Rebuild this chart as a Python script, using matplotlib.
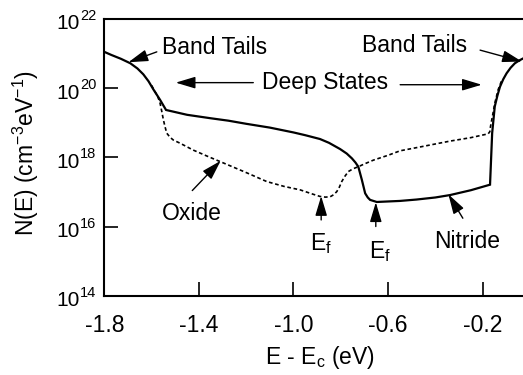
import matplotlib
matplotlib.use("Agg")
import matplotlib.pyplot as plt
import matplotlib.transforms as mtransforms
import numpy as np

plt.rcParams['font.family'] = ['Liberation Sans', 'DejaVu Sans']
plt.rcParams['mathtext.fontset'] = 'custom'
plt.rcParams['mathtext.rm'] = 'Liberation Sans'
plt.rcParams['mathtext.it'] = 'Liberation Sans:italic'
plt.rcParams['mathtext.bf'] = 'Liberation Sans:bold'

# Density of states N(E): energies in eV relative to Ec, values as log10(N / cm^-3 eV^-1)
nitride_E = [-1.80, -1.77, -1.73, -1.69, -1.66, -1.635, -1.613, -1.593, -1.564,
             -1.539, -1.45, -1.35, -1.275, -1.20, -1.10, -1.00, -0.95, -0.888,
             -0.85, -0.803, -0.775, -0.753, -0.738, -0.726, -0.711, -0.697,
             -0.686, -0.676, -0.648, -0.55, -0.48, -0.40, -0.338, -0.25, -0.169,
             -0.160, -0.149, -0.138, -0.127, -0.113, -0.099, -0.082, -0.064,
             -0.046, -0.029, 0.0]
nitride_logN = [21.05, 20.96, 20.85, 20.72, 20.57, 20.40, 20.20, 19.97, 19.66,
                19.37, 19.23, 19.13, 19.06, 18.97, 18.86, 18.72, 18.64, 18.53,
                18.42, 18.24, 18.11, 17.97, 17.85, 17.73, 17.35, 16.96,
                16.84, 16.77, 16.71, 16.74, 16.78, 16.84, 16.91, 17.05, 17.21,
                18.70, 19.47, 19.78, 20.04, 20.26, 20.43, 20.59, 20.72,
                20.80, 20.86, 20.95]

oxide_E = [-1.60, -1.586, -1.575, -1.564, -1.557, -1.550, -1.543, -1.536, -1.522,
           -1.508, -1.48, -1.424, -1.36, -1.311, -1.20, -1.113, -1.04, -0.972,
           -0.92, -0.888, -0.865, -0.845, -0.83, -0.817, -0.806, -0.796, -0.782,
           -0.768, -0.748, -0.726, -0.70, -0.662, -0.60, -0.549, -0.45, -0.338,
           -0.25, -0.177, -0.170, -0.167, -0.163, -0.159, -0.149, -0.135, -0.121]
oxide_logN = [20.08, 19.90, 19.78, 19.56, 19.33, 19.08, 18.88, 18.70, 18.58,
              18.50, 18.41, 18.21, 18.02, 17.88, 17.56, 17.30, 17.16, 17.06,
              16.94, 16.87, 16.85, 16.86, 16.92, 17.01, 17.14, 17.30, 17.46,
              17.59, 17.67, 17.73, 17.81, 17.92, 18.06, 18.19, 18.32, 18.47,
              18.57, 18.68, 18.74, 18.89, 19.04, 19.18, 19.56, 19.95, 20.20]

x_ticks = [-1.8, -1.4, -1.0, -0.6, -0.2]
x_ticklabels = ["-1.8", "-1.4", "-1.0", "-0.6", "-0.2"]
y_exponents = [14, 16, 18, 20, 22]

FS = 16.5

fig = plt.figure(figsize=(5.23, 3.75), dpi=100)
ax = fig.add_axes([104.3 / 523, (375 - 295.7) / 375, (530 - 104.3) / 523, (295.7 - 19) / 375])

ax.semilogy(nitride_E, 10.0 ** np.array(nitride_logN), color='black', lw=1.6,
            solid_joinstyle='miter')
ax.semilogy(oxide_E, 10.0 ** np.array(oxide_logN), color='black', lw=1.2,
            linestyle=(0, (2.2, 1.6)))

ax.set_xlim(-1.8, 0.0)
ax.set_ylim(1e14, 1e22)

ax.set_xticks(x_ticks)
ax.set_xticklabels(x_ticklabels)
ax.set_yticks([10.0 ** e for e in y_exponents])
ax.set_yticklabels([])
ax.minorticks_off()
ax.tick_params(axis='both', direction='in', length=10, width=1.2, labelsize=FS)
ax.tick_params(axis='x', pad=13)

# power-of-ten labels on the y axis: base "10" with a small raised exponent
ylab_trans = mtransforms.blended_transform_factory(ax.transAxes, ax.transData)
x_split = -0.057
for e in y_exponents:
    base_tr = ylab_trans + mtransforms.ScaledTranslation(0, -7.5 / 72, fig.dpi_scale_trans)
    exp_tr = ylab_trans + mtransforms.ScaledTranslation(0, -0.8 / 72, fig.dpi_scale_trans)
    ax.text(x_split, 10.0 ** e, "10", fontsize=15, ha='right', va='baseline',
            transform=base_tr, clip_on=False)
    ax.text(x_split, 10.0 ** e, str(e), fontsize=10.5, ha='left', va='baseline',
            transform=exp_tr, clip_on=False)

for side in ('left', 'bottom', 'top', 'right'):
    ax.spines[side].set_linewidth(1.5)

ax.set_xlabel(r"E - E$_\mathrm{c}$ (eV)", fontsize=FS, va='top')
ax.xaxis.set_label_coords(0.507, -0.1746)
ax.set_ylabel(r"N(E) (cm$^{-3}$eV$^{-1}$)", fontsize=FS)
ax.yaxis.set_label_coords(-0.148, 0.514)

arrow_kw = dict(arrowstyle='-|>,head_length=0.6,head_width=0.18', color='black',
                lw=1.0, shrinkA=0, shrinkB=0, mutation_scale=20)


def arrow(x0, e0, x1, e1):
    ax.annotate('', xy=(x1, 10.0 ** e1), xytext=(x0, 10.0 ** e0),
                xycoords='data', textcoords='data', arrowprops=arrow_kw)


# labels and pointers
ax.text(-1.554, 10.0 ** 21.19, "Band Tails", fontsize=FS, ha='left', va='center')
arrow(-1.578, 21.05, -1.698, 20.75)

ax.text(-0.709, 10.0 ** 21.22, "Band Tails", fontsize=FS, ha='left', va='center')
arrow(-0.211, 21.10, -0.034, 20.77)

ax.text(-0.866, 10.0 ** 20.16, "Deep States", fontsize=FS, ha='center', va='center')
arrow(-1.170, 20.16, -1.498, 20.16)
arrow(-0.549, 20.10, -0.204, 20.10)

ax.text(-1.555, 10.0 ** 16.38, "Oxide", fontsize=FS, ha='left', va='center')
arrow(-1.428, 17.04, -1.308, 17.90)

ax.text(-0.930, 10.0 ** 15.32, r"E$_\mathrm{f}$", fontsize=FS, ha='left', va='baseline')
arrow(-0.883, 16.19, -0.883, 16.88)

ax.text(-0.680, 10.0 ** 15.08, r"E$_\mathrm{f}$", fontsize=FS, ha='left', va='baseline')
arrow(-0.652, 16.00, -0.652, 16.70)

ax.text(-0.404, 10.0 ** 15.56, "Nitride", fontsize=FS, ha='left', va='center')
arrow(-0.284, 16.24, -0.345, 16.93)

fig.savefig("out.png", dpi=100)
